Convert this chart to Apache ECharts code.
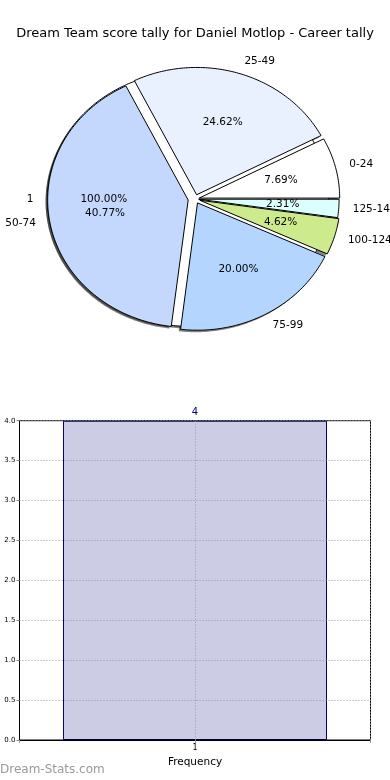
<!DOCTYPE html>
<html><head><meta charset="utf-8">
<script src="https://cdn.jsdelivr.net/npm/echarts@6/dist/echarts.min.js"></script>
<style>html,body{margin:0;padding:0;background:#fff}#c{width:390px;height:780px}</style>
</head><body><div id="c"></div>
<script>
const titleText = 'Dream Team score tally for Daniel Motlop - Career tally';
const pieLabels = ['0-24', '25-49', '50-74', '75-99', '100-124', '125-149'];
const pieValues = [10, 32, 53, 26, 6, 3];
const overlayLabels = ['1'];
const overlayValues = [1];
const barCategories = ['1'];
const barValues = [4];
const yTickStep = 0.5;
const barAxisName = 'Frequency';
const watermark = 'Dream-Stats.com';

const pieColors = ['#ffffff', '#e9f0fe', '#c4d8fe', '#b4d5fe', '#cdea8c', '#dcffff'];
const overlayColors = ['#ffffff'];
const pieExplode = [0.03, 0.035, 0.05, 0.035, 0.035, 0.025];
const overlayExplode = [0.05];
const FONT = '"DejaVu Sans"';

function makePieRender(values, labels, colors, explode, zBase) {
  const total = values.reduce((a, b) => a + b, 0);
  const cum = [0];
  values.forEach(v => cum.push(cum[cum.length - 1] + v));
  return function (params, api) {
    const i = params.dataIndex;
    const a0 = cum[i] / total * 2 * Math.PI, a1 = cum[i + 1] / total * 2 * Math.PI;
    const mid = (a0 + a1) / 2, e = explode[i];
    const ox = e * Math.cos(mid), oy = e * Math.sin(mid);
    const full = (a1 - a0) >= 2 * Math.PI - 1e-9;
    const n = Math.max(4, Math.ceil((a1 - a0) / (Math.PI / 180)));
    const pts = [];
    if (!full) pts.push(api.coord([ox, oy]));
    for (let k = 0; k <= n; k++) {
      const a = a0 + (a1 - a0) * k / n;
      pts.push(api.coord([ox + Math.cos(a), oy + Math.sin(a)]));
    }
    const sh = pts.map(p => [p[0] - 2, p[1] + 2]);
    const lx = ox + 1.1 * Math.cos(mid), ly = oy + 1.1 * Math.sin(mid);
    const lp = api.coord([lx, ly]);
    const pp = api.coord([ox + 0.6 * Math.cos(mid), oy + 0.6 * Math.sin(mid)]);
    const pct = (values[i] / total * 100).toFixed(2) + '%';
    return {
      type: 'group', children: [
        { type: 'polygon', z2: 0, shape: { points: sh }, style: { fill: 'rgba(30,30,30,0.55)' } },
        { type: 'polygon', z2: zBase, shape: { points: pts }, style: { fill: colors[i], stroke: '#000', lineWidth: 1 } },
        { type: 'text', z2: 10, x: lp[0], y: lp[1], style: { text: labels[i], fill: '#000', font: '10.5px ' + FONT, align: lx > 0 ? 'left' : 'right', verticalAlign: 'middle' } },
        { type: 'text', z2: 10, x: pp[0], y: pp[1], style: { text: pct, fill: '#000', font: '10.5px ' + FONT, align: 'center', verticalAlign: 'middle' } }
      ]
    };
  };
}

const chart = echarts.init(document.getElementById('c'), null, { renderer: 'canvas' });
const option = {
  animation: false,
  backgroundColor: '#fff',
  title: { text: titleText, left: 'center', top: 22, textStyle: { fontFamily: FONT, fontSize: 13, fontWeight: 'normal', color: '#000' } },
  grid: [
    { left: 12.45, width: 365.3, top: 33.5, height: 331 },
    { left: 19.5, right: 19.5, top: 420.7, bottom: 40, show: true, borderColor: '#000', borderWidth: 1 }
  ],
  xAxis: [
    { gridIndex: 0, type: 'value', min: -1.3, max: 1.3, show: false },
    {
      gridIndex: 1, type: 'value', min: 0, max: barCategories.length + 1, interval: 1,
      axisLine: { show: true, lineStyle: { color: '#000' } },
      axisTick: { show: true, length: 3, lineStyle: { color: '#999' } },
      axisLabel: { formatter: v => barCategories[v - 1] || '', fontSize: 8, margin: 4, color: '#000', fontFamily: FONT },
      splitLine: { show: true, lineStyle: { color: '#999', type: [1, 2] } },
      name: barAxisName, nameLocation: 'middle', nameGap: 17,
      nameTextStyle: { fontSize: 10.5, fontFamily: FONT, color: '#000' }
    }
  ],
  yAxis: [
    { gridIndex: 0, type: 'value', min: -1.3, max: 1.3, show: false },
    {
      gridIndex: 1, type: 'value', min: 0, max: Math.max(...barValues), interval: yTickStep,
      axisLine: { show: true, lineStyle: { color: '#000' } },
      axisTick: { show: true, length: 3, lineStyle: { color: '#888' } },
      axisLabel: { formatter: v => v.toFixed(1), fontSize: 7, margin: 4, color: '#000', fontFamily: FONT },
      splitLine: { show: true, lineStyle: { color: '#999', type: [1, 2] } }
    }
  ],
  graphic: [
    { type: 'text', left: 0, top: 764, style: { text: watermark, fill: '#9a9a9a', font: '12px ' + FONT } }
  ],
  series: [
    {
      type: 'custom', xAxisIndex: 0, yAxisIndex: 0, clip: false,
      renderItem: makePieRender(overlayValues, overlayLabels, overlayColors, overlayExplode, 1),
      data: overlayValues.map((v, i) => ({ name: overlayLabels[i], value: [v] }))
    },
    {
      type: 'custom', xAxisIndex: 0, yAxisIndex: 0, clip: false,
      renderItem: makePieRender(pieValues, pieLabels, pieColors, pieExplode, 2),
      data: pieValues.map((v, i) => ({ name: pieLabels[i], value: [v] }))
    },
    {
      type: 'bar', xAxisIndex: 1, yAxisIndex: 1, barWidth: 264, z: -1,
      data: barValues.map((v, i) => [i + 1, v]),
      itemStyle: { color: '#ccccE5', borderColor: '#00008b', borderWidth: 1 },
      label: { show: true, position: 'top', distance: 3, color: '#000080', fontSize: 10, fontFamily: FONT, formatter: p => String(p.value[1]) }
    }
  ]
};
chart.setOption(option);
</script></body></html>
